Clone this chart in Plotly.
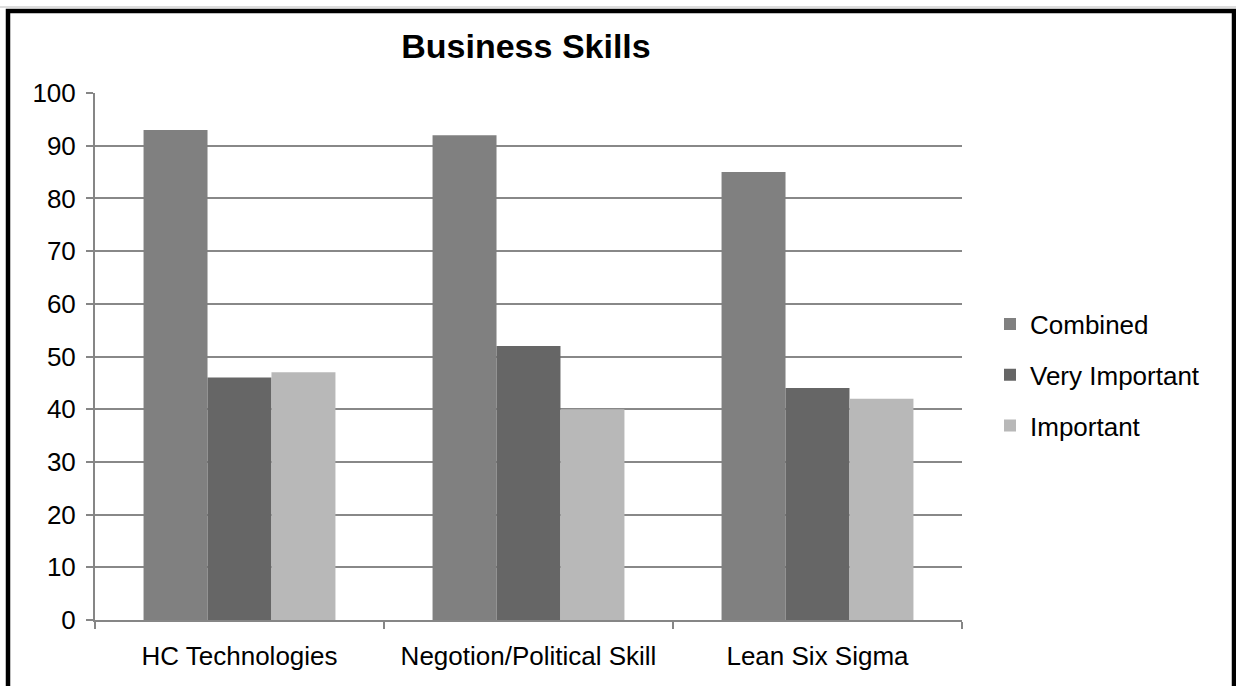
import plotly.graph_objects as go

categories = ["HC Technologies", "Negotion/Political Skill", "Lean Six Sigma"]
combined = [93, 92, 85]
very_important = [46, 52, 44]
important = [47, 40, 42]
series_names = ["Combined", "Very Important", "Important"]
series_colors = ["#808080", "#666666", "#b8b8b8"]

W, H = 1236, 686
L, R, T, B = 95, 962, 93, 620
pw, ph = R - L, B - T

def px(x):
    return (x - L) / pw

def py(y):
    return (B - y) / ph

fig = go.Figure()
for i, (name, vals, col) in enumerate(zip(series_names, [combined, very_important, important], series_colors)):
    fig.add_trace(go.Bar(
        x=categories, y=vals, name=name, marker_color=col,
        marker_line_width=0, legendgroup=f"g{i}",
    ))

font_fam = "Liberation Sans, Arial, Helvetica, sans-serif"

fig.update_layout(
    width=W, height=H,
    margin=dict(l=L, r=W - R, t=T, b=H - B, pad=0),
    paper_bgcolor="white", plot_bgcolor="white",
    barmode="group", bargap=0.336, bargroupgap=0,
    font=dict(family=font_fam, size=26, color="black"),
    title=dict(text="<b>Business Skills</b>", x=526 / W, xanchor="center",
               y=1 - 46 / H, yanchor="middle",
               font=dict(size=34, family=font_fam, color="black")),
    legend=dict(x=px(990), xanchor="left", y=py(375), yanchor="middle",
                tracegroupgap=14, font=dict(size=26), bgcolor="rgba(0,0,0,0)",
                itemclick=False),
    showlegend=True,
    xaxis=dict(showline=True, linecolor="#868686", linewidth=2,
               ticks="outside", tickson="boundaries", ticklen=7,
               tickcolor="#868686", tickwidth=2, showgrid=False,
               tickfont=dict(size=26), ticklabelstandoff=12),
    yaxis=dict(range=[0, 100], dtick=10, showline=True, linecolor="#868686",
               linewidth=2, ticks="outside", ticklen=7, tickcolor="#868686",
               tickwidth=2, showgrid=True, gridcolor="#888888", gridwidth=1.5,
               zeroline=False, tickfont=dict(size=26), ticklabelstandoff=5),
    shapes=[
        dict(type="line", xref="paper", yref="paper",
             x0=px(0), x1=px(W), y0=py(7), y1=py(7),
             line=dict(color="#bbbbbb", width=1)),
        dict(type="rect", xref="paper", yref="paper",
             x0=px(8), x1=px(1234), y0=py(720), y1=py(11),
             line=dict(color="black", width=4.5), layer="above"),
    ],
)

fig.write_html("out.html")
